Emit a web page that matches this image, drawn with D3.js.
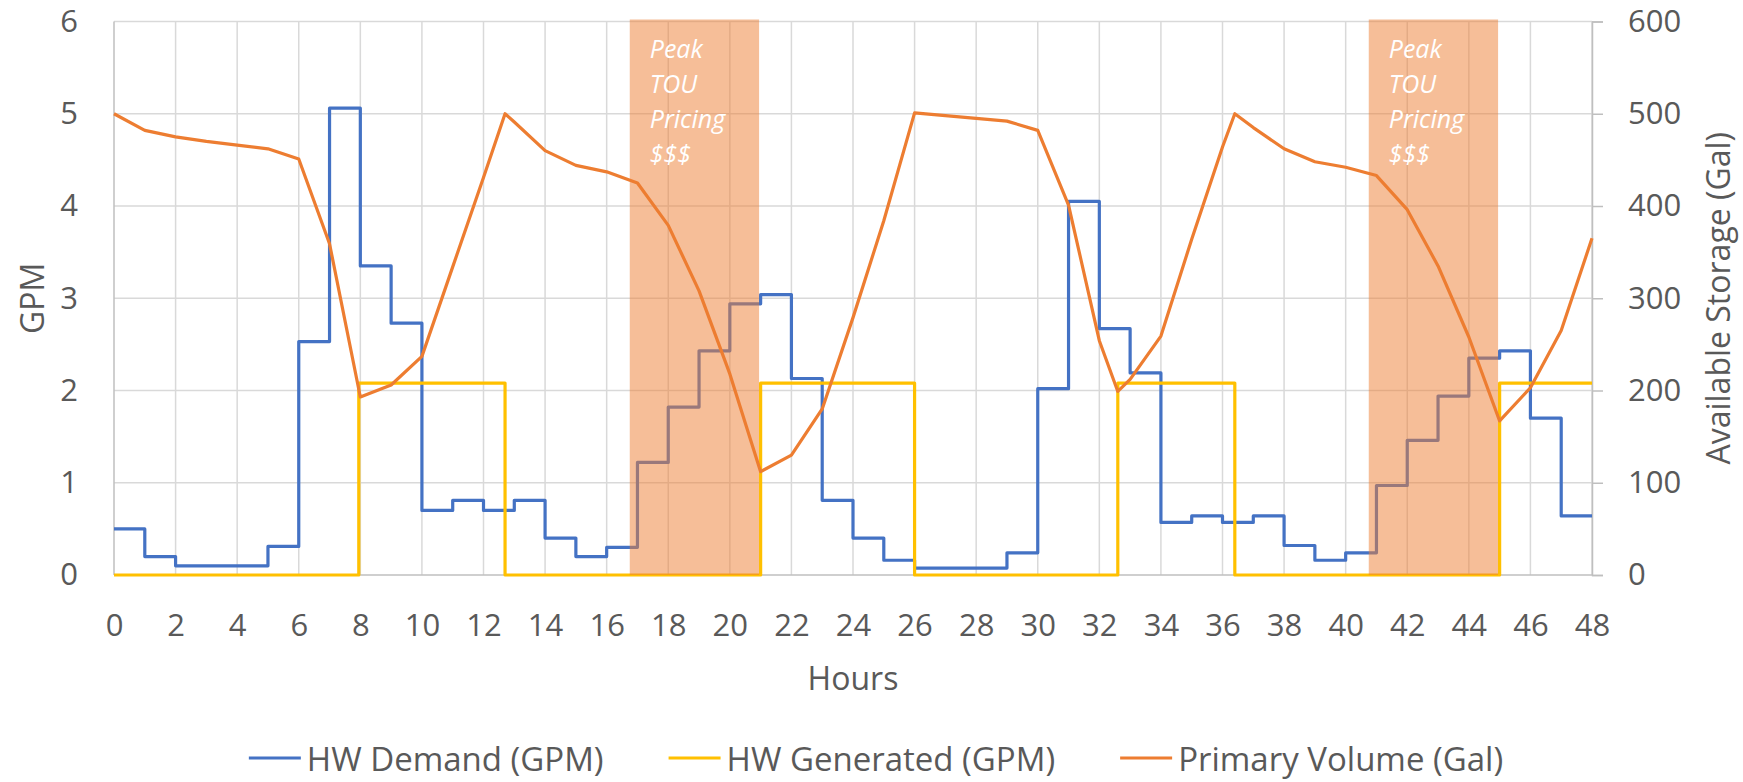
<!DOCTYPE html>
<html>
<head>
<meta charset="utf-8">
<script src="https://cdn.jsdelivr.net/npm/d3@7"></script>
<style>
  html, body { margin: 0; padding: 0; background: #fff; }
  svg { display: block; font-family: "Open Sans", sans-serif; }
</style>
</head>
<body>
<svg id="chart" width="1743" height="782"></svg>
<script>
// hourly hot water demand (GPM), one value per hour 0..47
const demand = [0.50, 0.20, 0.10, 0.10, 0.10, 0.31, 2.53, 5.06, 3.35, 2.73, 0.70, 0.81,
  0.70, 0.81, 0.40, 0.20, 0.30, 1.22, 1.82, 2.43, 2.94, 3.04, 2.13, 0.81,
  0.40, 0.16, 0.075, 0.075, 0.075, 0.24, 2.02, 4.05, 2.67, 2.19, 0.57, 0.64,
  0.57, 0.64, 0.32, 0.16, 0.24, 0.97, 1.46, 1.94, 2.35, 2.43, 1.70, 0.64];

// generator on/off switching (GPM)
const genHours = [0, 7.95, 12.7, 21, 26, 32.6, 36.4, 45, 48];
const genValues = [0, 2.08, 0, 2.08, 0, 2.08, 0, 2.08, 2.08];

// primary storage volume (Gal)
const volHours = [0, 1, 2, 3, 4, 5, 6, 7, 8, 9, 10, 11, 12, 12.7, 13, 14, 15, 16, 17, 18,
  19, 20, 21, 22, 23, 24, 25, 26, 27, 28, 29, 30, 31, 32, 32.6, 33, 34, 35, 36, 36.4,
  37, 38, 39, 40, 41, 42, 43, 44, 45, 46, 47, 48];
const volume = [500, 482, 475, 470, 466, 462, 451, 359, 193, 206, 237, 334, 431, 500, 491, 460, 444, 437, 425, 379,
  308, 218, 112, 130, 180, 279, 384, 501, 498, 495, 492, 482, 401, 254, 199, 212, 259, 364, 464, 500,
  485, 462, 448, 442, 433, 396, 335, 258, 167, 203, 265, 365];

// peak time-of-use windows
const peakStart = [16.75, 40.75];
const peakEnd = [20.95, 44.95];
const peakLabel = ['Peak', 'TOU', 'Pricing', '$$$'];

const xTicks = [0, 2, 4, 6, 8, 10, 12, 14, 16, 18, 20, 22, 24, 26, 28, 30, 32, 34, 36, 38, 40, 42, 44, 46, 48];
const gpmTicks = [0, 1, 2, 3, 4, 5, 6];
const galTicks = [0, 100, 200, 300, 400, 500, 600];

const series = [
  { name: 'HW Demand (GPM)', color: '#4472C4' },
  { name: 'HW Generated (GPM)', color: '#FFC000' },
  { name: 'Primary Volume (Gal)', color: '#ED7D31' },
];

const textColor = '#595959';
const tickSize = 31, titleSize = 32, legendSize = 33;
const plotLeft = 114, plotRight = 1592, plotTop = 21.5, plotBottom = 575;

const svg = d3.select('#chart');
const x = d3.scaleLinear().domain([0, 48]).range([plotLeft, plotRight]);
const yL = d3.scaleLinear().domain([0, 6]).range([plotBottom, plotTop]);
const yR = d3.scaleLinear().domain([0, 600]).range([plotBottom, plotTop]);

// gridlines
svg.append('g').selectAll('line').data(gpmTicks.slice(1))
  .join('line')
  .attr('x1', plotLeft).attr('x2', plotRight)
  .attr('y1', d => yL(d)).attr('y2', d => yL(d))
  .attr('stroke', '#D9D9D9').attr('stroke-width', 1.5);
svg.append('g').selectAll('line').data(xTicks.slice(1))
  .join('line')
  .attr('x1', d => x(d)).attr('x2', d => x(d))
  .attr('y1', plotTop).attr('y2', plotBottom)
  .attr('stroke', '#D9D9D9').attr('stroke-width', 1.5);

// axes
const axisColor = '#BFBFBF';
svg.append('line').attr('x1', plotLeft).attr('x2', plotLeft).attr('y1', plotTop).attr('y2', plotBottom)
  .attr('stroke', axisColor).attr('stroke-width', 1.5);
svg.append('line').attr('x1', plotLeft).attr('x2', plotRight).attr('y1', plotBottom).attr('y2', plotBottom)
  .attr('stroke', axisColor).attr('stroke-width', 1.5);

const rightAxis = svg.append('g').attr('transform', `translate(${plotRight},0)`)
  .call(d3.axisRight(yR).tickValues(galTicks).tickSize(11).tickPadding(25));
rightAxis.select('.domain').attr('stroke', axisColor).attr('stroke-width', 1.5);
rightAxis.selectAll('.tick line').attr('stroke', axisColor).attr('stroke-width', 1.5);

const leftAxis = svg.append('g').attr('transform', `translate(${plotLeft},0)`)
  .call(d3.axisLeft(yL).tickValues(gpmTicks).tickFormat(d3.format('d')).tickSize(0).tickPadding(36));
leftAxis.select('.domain').remove();

const bottomAxis = svg.append('g').attr('transform', `translate(0,${plotBottom})`)
  .call(d3.axisBottom(x).tickValues(xTicks).tickSize(0).tickPadding(39));
bottomAxis.select('.domain').remove();

[rightAxis, leftAxis, bottomAxis].forEach(a => {
  a.attr('font-family', '"Open Sans", sans-serif').attr('font-size', tickSize);
  a.selectAll('text').attr('fill', textColor);
});

// axis titles
const midY = (plotTop + plotBottom) / 2;
svg.append('text').attr('transform', `translate(31,${midY}) rotate(-90)`)
  .attr('text-anchor', 'middle').attr('dominant-baseline', 'central')
  .attr('fill', textColor).attr('font-size', titleSize).text('GPM');
svg.append('text').attr('transform', `translate(1717,${midY}) rotate(-90)`)
  .attr('text-anchor', 'middle').attr('dominant-baseline', 'central')
  .attr('fill', textColor).attr('font-size', titleSize).text('Available Storage (Gal)');
svg.append('text').attr('x', (plotLeft + plotRight) / 2).attr('y', 677)
  .attr('text-anchor', 'middle').attr('dominant-baseline', 'central')
  .attr('fill', textColor).attr('font-size', titleSize).text('Hours');

// demand (step per hour)
const demandPts = demand.map((v, i) => [i, v]).concat([[48, demand[demand.length - 1]]]);
const stepLine = d3.line().x(d => x(d[0])).y(d => yL(d[1])).curve(d3.curveStepAfter);
svg.append('path').attr('d', stepLine(demandPts))
  .attr('fill', 'none').attr('stroke', series[0].color).attr('stroke-width', 3.2)
  .attr('stroke-linejoin', 'round');

// generated
const genPts = genHours.map((h, i) => [h, genValues[i]]);
svg.append('path').attr('d', stepLine(genPts))
  .attr('fill', 'none').attr('stroke', series[1].color).attr('stroke-width', 3.2)
  .attr('stroke-linejoin', 'round');

// peak bands
const bands = svg.append('g');
bands.selectAll('rect').data(peakStart)
  .join('rect')
  .attr('x', d => x(d))
  .attr('width', (d, i) => x(peakEnd[i]) - x(d))
  .attr('y', yL(6) - 2)
  .attr('height', plotBottom - yL(6) + 2)
  .attr('fill', '#ED7D31').attr('fill-opacity', 0.5);
bands.selectAll('text').data(peakStart)
  .join('text')
  .attr('x', d => x(d) + 20)
  .attr('y', 48)
  .attr('fill', '#fff').attr('font-size', 25).attr('font-style', 'italic')
  .each(function (d) {
    d3.select(this).selectAll('tspan').data(peakLabel)
      .join('tspan')
      .attr('x', x(d) + 20)
      .attr('dy', (t, j) => j === 0 ? 0 : 35)
      .attr('dominant-baseline', 'central')
      .text(t => t);
  });

// primary volume
const volLine = d3.line().x((d, i) => x(volHours[i])).y(d => yR(d));
svg.append('path').attr('d', volLine(volume))
  .attr('fill', 'none').attr('stroke', series[2].color).attr('stroke-width', 3.2)
  .attr('stroke-linejoin', 'round');

// legend
const legend = svg.append('g');
const items = legend.selectAll('g').data(series).join('g');
items.append('line').attr('x1', 0).attr('x2', 52).attr('y1', 0).attr('y2', 0)
  .attr('stroke', d => d.color).attr('stroke-width', 3.2);
items.append('text').attr('x', 58).attr('y', 0).attr('dominant-baseline', 'central')
  .attr('fill', textColor).attr('font-size', legendSize).text(d => d.name);
let pos = 0;
const offsets = [];
items.each(function () {
  offsets.push(pos);
  pos += 58 + this.querySelector('text').getComputedTextLength() + 65;
});
const total = pos - 65;
const startX = 876 - total / 2;
items.attr('transform', (d, i) => `translate(${startX + offsets[i]},758)`);
</script>
</body>
</html>
